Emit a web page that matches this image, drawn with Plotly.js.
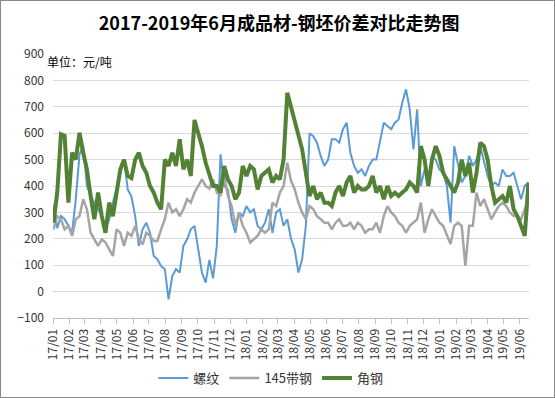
<!DOCTYPE html>
<html>
<head>
<meta charset="utf-8">
<script src="https://cdn.plot.ly/plotly-3.0.1.min.js"></script>
<style>
  html, body { margin: 0; padding: 0; background: #fff; }
  #frame { width: 555px; height: 398px; box-sizing: border-box; border: 1px solid #898989; background: #fff; }
  #chart { width: 553px; height: 396px; }
</style>
</head>
<body>
<div id="frame"><div id="chart"></div></div>
<script>
// Weekly sample dates
const dates = [
"2017-01-02","2017-01-09","2017-01-16","2017-01-23","2017-01-30","2017-02-06","2017-02-13","2017-02-20","2017-02-27",
"2017-03-06","2017-03-13","2017-03-20","2017-03-27","2017-04-03","2017-04-10","2017-04-17","2017-04-24",
"2017-05-01","2017-05-08","2017-05-15","2017-05-22","2017-05-29","2017-06-05","2017-06-12","2017-06-19","2017-06-26",
"2017-07-03","2017-07-10","2017-07-17","2017-07-24","2017-07-31","2017-08-07","2017-08-14","2017-08-21","2017-08-28",
"2017-09-04","2017-09-11","2017-09-18","2017-09-25","2017-10-02","2017-10-09","2017-10-16","2017-10-23","2017-10-30",
"2017-11-06","2017-11-13","2017-11-20","2017-11-27","2017-12-04","2017-12-11","2017-12-18","2017-12-25",
"2018-01-01","2018-01-08","2018-01-15","2018-01-22","2018-01-29","2018-02-05","2018-02-12","2018-02-19","2018-02-26",
"2018-03-05","2018-03-12","2018-03-19","2018-03-26","2018-04-02","2018-04-09","2018-04-16","2018-04-23","2018-04-30",
"2018-05-07","2018-05-14","2018-05-21","2018-05-28","2018-06-04","2018-06-11","2018-06-18","2018-06-25",
"2018-07-02","2018-07-09","2018-07-16","2018-07-23","2018-07-30","2018-08-06","2018-08-13","2018-08-20","2018-08-27",
"2018-09-03","2018-09-10","2018-09-17","2018-09-24","2018-10-01","2018-10-08","2018-10-15","2018-10-22","2018-10-29",
"2018-11-05","2018-11-12","2018-11-19","2018-11-26","2018-12-03","2018-12-10","2018-12-17","2018-12-24","2018-12-31",
"2019-01-07","2019-01-14","2019-01-21","2019-01-28","2019-02-04","2019-02-11","2019-02-18","2019-02-25",
"2019-03-04","2019-03-11","2019-03-18","2019-03-25","2019-04-01","2019-04-08","2019-04-15","2019-04-22","2019-04-29",
"2019-05-06","2019-05-13","2019-05-20","2019-05-27","2019-06-03","2019-06-10","2019-06-17"
];

// 螺纹 (rebar) spread
const rebar = [
330,240,286,274,249,223,350,520,555,400,
362,337,312,286,236,274,337,400,450,500,
387,360,286,173,236,261,223,135,122,97,
85,-29,59,85,72,173,198,236,249,160,
72,34,120,50,173,520,400,387,274,223,
300,286,324,300,312,249,236,261,312,223,
300,312,249,274,200,160,72,122,249,600,
589,564,514,476,500,577,577,564,615,640,
526,476,450,463,438,476,500,500,564,640,
627,615,640,652,716,766,690,539,690,400,
463,400,514,500,463,450,400,261,551,476,
413,438,514,476,500,551,488,438,400,413,
400,463,438,438,450,400,350,400,413
];

// 145带钢 (strip) spread
const strip = [
236,286,274,236,249,211,274,286,350,312,
223,198,173,198,186,160,135,236,223,173,
223,211,249,198,179,223,211,192,192,236,
274,337,300,312,286,312,350,337,375,400,
425,400,390,425,375,362,438,362,324,249,
300,249,223,186,198,211,236,223,236,337,
324,375,400,488,420,387,337,300,274,324,
312,286,274,261,261,236,261,274,249,249,
261,236,261,249,223,236,236,261,223,286,
324,300,286,261,249,223,249,261,274,337,
223,274,312,286,261,249,211,180,249,261,
249,97,249,249,375,324,350,312,274,300,
324,337,324,300,286,286,274,312,350
];

// 角钢 (angle) spread
const angle = [
261,375,596,590,337,526,500,602,526,463,
362,274,375,286,223,337,286,375,463,500,
438,430,500,526,476,450,400,375,337,312,
500,476,526,476,577,463,500,438,650,600,
551,488,438,400,400,375,476,425,400,350,
375,476,438,476,463,387,438,450,463,413,
438,425,500,753,700,652,589,539,450,362,
400,350,375,337,337,324,375,400,362,413,
438,375,400,387,387,400,438,375,400,350,
400,362,375,362,375,387,413,400,375,551,
500,400,500,551,514,450,425,400,375,413,
500,438,488,375,450,564,551,500,400,337,
350,362,337,400,312,286,249,211,413
];

const seriesNames = ["螺纹", "145带钢", "角钢"];

const tickDates = [
"2017-01-01","2017-02-01","2017-03-01","2017-04-01","2017-05-01","2017-06-01","2017-07-01","2017-08-01","2017-09-01","2017-10-01","2017-11-01","2017-12-01",
"2018-01-01","2018-02-01","2018-03-01","2018-04-01","2018-05-01","2018-06-01","2018-07-01","2018-08-01","2018-09-01","2018-10-01","2018-11-01","2018-12-01",
"2019-01-01","2019-02-01","2019-03-01","2019-04-01","2019-05-01","2019-06-01"
];
const tickLabels = [
"17/01","17/02","17/03","17/04","17/05","17/06","17/07","17/08","17/09","17/10","17/11","17/12",
"18/01","18/02","18/03","18/04","18/05","18/06","18/07","18/08","18/09","18/10","18/11","18/12",
"19/01","19/02","19/03","19/04","19/05","19/06"
];
const yTicks = [-100, 0, 100, 200, 300, 400, 500, 600, 700, 800, 900];

const FONT = "'Noto Sans CJK SC', 'Noto Sans', sans-serif";

const traces = [
  { x: dates, y: rebar, name: seriesNames[0], type: "scatter", mode: "lines",
    line: { color: "#5B9BD5", width: 2 } },
  { x: dates, y: strip, name: seriesNames[1], type: "scatter", mode: "lines",
    line: { color: "#A5A5A5", width: 2.5 } },
  { x: dates, y: angle, name: seriesNames[2], type: "scatter", mode: "lines",
    line: { color: "#538135", width: 4 } }
];

const layout = {
  width: 553, height: 396,
  margin: { l: 52, r: 25, t: 53, b: 79, autoexpand: false },
  paper_bgcolor: "#ffffff", plot_bgcolor: "#ffffff",
  font: { family: FONT, size: 12, color: "#333333" },
  title: { text: "<b>2017-2019年6月成品材-钢坯价差对比走势图</b>", font: { family: FONT, size: 18, color: "#000000" },
           xref: "container", x: 0.503, xanchor: "center", yref: "container", y: 0.943, yanchor: "middle" },
  xaxis: {
    type: "date", range: ["2017-01-01", "2019-06-18"],
    tickmode: "array", tickvals: tickDates, ticktext: tickLabels, tickangle: -90,
    ticks: "outside", ticklen: 5, tickcolor: "#BFBFBF", tickwidth: 1,
    showline: true, linecolor: "#BFBFBF", linewidth: 1,
    showgrid: false, zeroline: false, automargin: false,
    tickfont: { family: FONT, size: 12, color: "#333333" }
  },
  yaxis: {
    range: [-100, 900], tickmode: "array", tickvals: yTicks,
    showgrid: true, gridcolor: "#D9D9D9", gridwidth: 1,
    zeroline: false, showline: false, ticks: "", automargin: false,
    ticklabelstandoff: 8,
    tickfont: { family: FONT, size: 12, color: "#333333" }
  },
  showlegend: true,
  legend: { orientation: "h", xref: "container", x: 0.488, xanchor: "center",
            yref: "container", y: 0.048, yanchor: "middle",
            font: { family: FONT, size: 13, color: "#333333" }, bgcolor: "rgba(0,0,0,0)" },
  annotations: [
    { text: "单位：元/吨", xref: "paper", yref: "paper", x: -0.017, y: 0.97, xanchor: "left", yanchor: "middle",
      showarrow: false, font: { family: FONT, size: 12, color: "#000000" } }
  ]
};

Plotly.newPlot("chart", traces, layout, { staticPlot: true, displayModeBar: false });
</script>
</body>
</html>
